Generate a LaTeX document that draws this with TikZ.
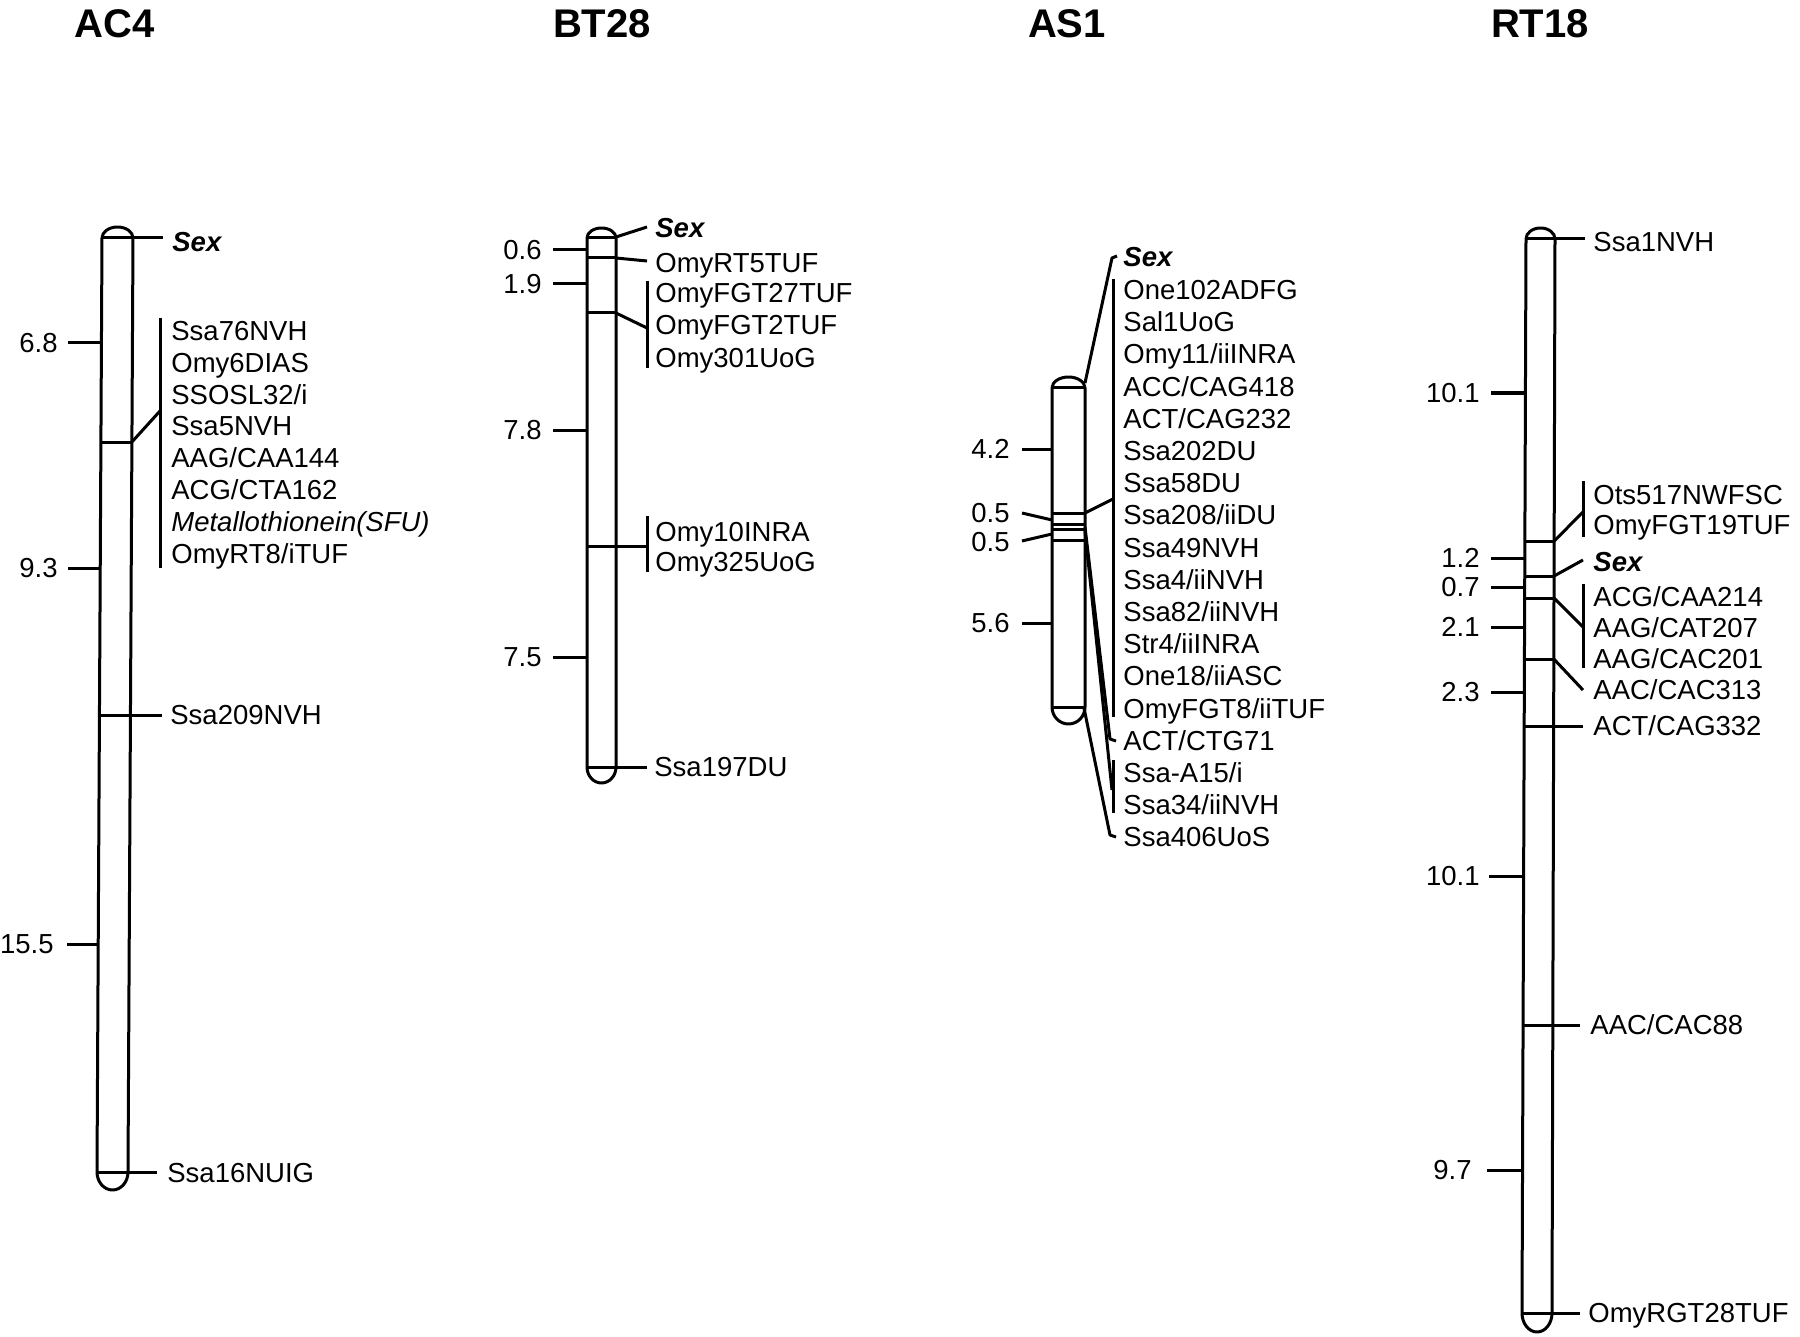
\documentclass[tikz,border=0pt]{standalone}
\usepackage{fontspec}
\setmainfont{Liberation Sans}
\newcommand\labfont{\fontsize{13.75pt}{16pt}\selectfont}
\newcommand\ttlfont{\fontsize{20pt}{24pt}\selectfont\bfseries}
\tikzset{
  chr/.style={line width=1.5pt, line join=round},
  ln/.style={line width=1.5pt},
  lbl/.style={inner sep=0pt, anchor=west, text height=9.85pt, text depth=0pt, font=\labfont},
  num/.style={lbl, anchor=east},
  sexl/.style={lbl, font=\labfont\bfseries\itshape},
  itl/.style={lbl, font=\labfont\itshape},
  ttl/.style={inner sep=0pt, text height=14.3pt, text depth=0pt, font=\ttlfont},
}
\begin{document}
\begin{tikzpicture}[x=0.5pt,y=-0.5pt]
\useasboundingbox (0,0) rectangle (1800,1337);

% ---------------- titles
\node[ttl] (tAC4) at (115,23) {AC4};
\node[ttl] (tBT28) at (602,23) {BT28};
\node[ttl] (tAS1) at (1067,23) {AS1};
\node[ttl] (tRT18) at (1540,23) {RT18};

% ================= AC4
\draw[chr] (102,238) -- (97,1172) arc[start angle=180,end angle=360,x radius=7.75pt,y radius=9pt] -- (133,238) arc[start angle=0,end angle=180,x radius=7.75pt,y radius=5.5pt] -- cycle;
\draw[ln] (102,238) -- (133,238);
\draw[ln] (100.9,442) -- (131.9,442);
\draw[ln] (99.4,715) -- (130.4,715);
\draw[ln] (97,1172) -- (128,1172);
% left numbers
\coordinate (a1l) at (68,343);  \coordinate (a1c) at (101.4,343);
\coordinate (a2l) at (68,568);  \coordinate (a2c) at (100.2,568);
\coordinate (a3l) at (67,944);  \coordinate (a3c) at (98.2,944);
\draw[ln] (a1l) -- (a1c);
\draw[ln] (a2l) -- (a2c);
\draw[ln] (a3l) -- (a3c);
\node[num] (an1) at (58,343) {6.8};
\node[num] (an2) at (58,568) {9.3};
\node[num] (an3) at (54,944) {15.5};
% right markers
\coordinate (as0) at (133,238); \coordinate (as1) at (163,238);
\draw[ln] (as0) -- (as1);
\node[sexl] (aSex) at (172,242) {Sex};
\coordinate (ab0) at (131.9,442); \coordinate (ab1) at (160,411);
\coordinate (abt) at (160,318); \coordinate (abb) at (160,568);
\draw[ln] (ab0) -- (ab1);
\draw[ln] (abt) -- (abb);
\node[lbl] (aL1) at (171,331) {Ssa76NVH};
\node[lbl] (aL2) at (171,363) {Omy6DIAS};
\node[lbl] (aL3) at (171,395) {SSOSL32/i};
\node[lbl] (aL4) at (171,426) {Ssa5NVH};
\node[lbl] (aL5) at (171,458) {AAG/CAA144};
\node[lbl] (aL6) at (171,490) {ACG/CTA162};
\node[itl] (aL7) at (171,522) {Metallothionein(SFU)};
\node[lbl] (aL8) at (171,554) {OmyRT8/iTUF};
\coordinate (ac0) at (130.4,715); \coordinate (ac1) at (162,715);
\draw[ln] (ac0) -- (ac1);
\node[lbl] (aL9) at (170,715) {Ssa209NVH};
\coordinate (ad0) at (128,1172); \coordinate (ad1) at (157,1172);
\draw[ln] (ad0) -- (ad1);
\node[lbl] (aL10) at (167,1173) {Ssa16NUIG};

% ================= BT28
\draw[chr] (587,238) -- (587,767) arc[start angle=180,end angle=360,x radius=7.25pt,y radius=8pt] -- (616,238) arc[start angle=0,end angle=180,x radius=7.25pt,y radius=5pt] -- cycle;
\draw[ln] (587,238) -- (616,238);
\draw[ln] (587,258) -- (616,258);
\draw[ln] (587,313) -- (616,313);
\draw[ln] (587,546) -- (616,546);
\draw[ln] (587,767) -- (616,767);
\coordinate (b1l) at (553,250); \coordinate (b1c) at (587,250);
\coordinate (b2l) at (553,284); \coordinate (b2c) at (587,284);
\coordinate (b3l) at (553,430); \coordinate (b3c) at (587,430);
\coordinate (b4l) at (553,657); \coordinate (b4c) at (587,657);
\draw[ln] (b1l) -- (b1c);
\draw[ln] (b2l) -- (b2c);
\draw[ln] (b3l) -- (b3c);
\draw[ln] (b4l) -- (b4c);
\node[num] (bn1) at (542,250) {0.6};
\node[num] (bn2) at (542,284) {1.9};
\node[num] (bn3) at (542,430) {7.8};
\node[num] (bn4) at (542,657) {7.5};
\coordinate (bs0) at (616,237); \coordinate (bs1) at (647,227);
\draw[ln] (bs0) -- (bs1);
\node[sexl] (bSex) at (655,228) {Sex};
\coordinate (br0) at (616,258); \coordinate (br1) at (647,261);
\draw[ln] (br0) -- (br1);
\node[lbl] (bL1) at (655,263) {OmyRT5TUF};
\coordinate (bf0) at (616,313); \coordinate (bf1) at (647,328);
\coordinate (bft) at (647,281); \coordinate (bfb) at (647,368);
\draw[ln] (bf0) -- (bf1);
\draw[ln] (bft) -- (bfb);
\node[lbl] (bL2) at (655,293) {OmyFGT27TUF};
\node[lbl] (bL3) at (655,325) {OmyFGT2TUF};
\node[lbl] (bL4) at (655,358) {Omy301UoG};
\coordinate (bo0) at (616,546); \coordinate (bo1) at (647,546);
\coordinate (bot) at (647,516); \coordinate (bob) at (647,572);
\draw[ln] (bo0) -- (bo1);
\draw[ln] (bot) -- (bob);
\node[lbl] (bL5) at (655,532) {Omy10INRA};
\node[lbl] (bL6) at (655,562) {Omy325UoG};
\coordinate (bz0) at (616,767); \coordinate (bz1) at (647,767);
\draw[ln] (bz0) -- (bz1);
\node[lbl] (bL7) at (654,767) {Ssa197DU};

% ================= AS1
\draw[chr] (1052,388) -- (1052,707) arc[start angle=180,end angle=360,x radius=8.25pt,y radius=8.5pt] -- (1085,388) arc[start angle=0,end angle=180,x radius=8.25pt,y radius=5.5pt] -- cycle;
\draw[ln] (1052,388) -- (1085,388);
\draw[ln] (1052,513) -- (1085,513);
\draw[ln] (1052,524) -- (1085,524);
\draw[ln] (1052,529) -- (1085,529);
\draw[ln] (1052,540) -- (1085,540);
\draw[ln] (1052,707) -- (1085,707);
\coordinate (c1l) at (1022,449); \coordinate (c1c) at (1052,449);
\coordinate (c2l) at (1022,513); \coordinate (c2c) at (1052,520);
\coordinate (c3l) at (1022,541); \coordinate (c3c) at (1052,534);
\coordinate (c4l) at (1022,623); \coordinate (c4c) at (1052,623);
\draw[ln] (c1l) -- (c1c);
\draw[ln] (c2l) -- (c2c);
\draw[ln] (c3l) -- (c3c);
\draw[ln] (c4l) -- (c4c);
\node[num] (cn1) at (1010,449) {4.2};
\node[num] (cn2) at (1010,513) {0.5};
\node[num] (cn3) at (1010,542) {0.5};
\node[num] (cn4) at (1010,623) {5.6};
\coordinate (cs0) at (1085,383); \coordinate (cs1) at (1112,258); \coordinate (cs2) at (1117,256);
\draw[ln, line join=round] (cs0) -- (cs1) -- (cs2);
\node[sexl] (cSex) at (1123,257) {Sex};
\coordinate (cm0) at (1085,513); \coordinate (cm1) at (1113,499);
\coordinate (cmt) at (1113,279); \coordinate (cmb) at (1113,717);
\draw[ln] (cm0) -- (cm1);
\draw[ln] (cmt) -- (cmb);
\node[lbl] (cL1) at (1123,290) {One102ADFG};
\node[lbl] (cL2) at (1123,322) {Sal1UoG};
\node[lbl] (cL3) at (1123,354) {Omy11/iiINRA};
\node[lbl] (cL4) at (1123,387) {ACC/CAG418};
\node[lbl] (cL5) at (1123,419) {ACT/CAG232};
\node[lbl] (cL6) at (1123,451) {Ssa202DU};
\node[lbl] (cL7) at (1123,483) {Ssa58DU};
\node[lbl] (cL8) at (1123,515) {Ssa208/iiDU};
\node[lbl] (cL9) at (1123,548) {Ssa49NVH};
\node[lbl] (cL10) at (1123,580) {Ssa4/iiNVH};
\node[lbl] (cL11) at (1123,612) {Ssa82/iiNVH};
\node[lbl] (cL12) at (1123,644) {Str4/iiINRA};
\node[lbl] (cL13) at (1123,676) {One18/iiASC};
\node[lbl] (cL14) at (1123,709) {OmyFGT8/iiTUF};
\coordinate (ck0) at (1085,527); \coordinate (ck1) at (1110,739); \coordinate (ck2) at (1116,741);
\draw[ln, line join=round] (ck0) -- (ck1) -- (ck2);
\node[lbl] (cL15) at (1123,741) {ACT/CTG71};
\coordinate (ca0) at (1085,531); \coordinate (ca1) at (1112,790);
\coordinate (cat) at (1113,760); \coordinate (cab) at (1113,813);
\draw[ln] (ca0) -- (ca1);
\draw[ln] (cat) -- (cab);
\node[lbl] (cL16) at (1123,773) {Ssa-A15/i};
\node[lbl] (cL17) at (1123,805) {Ssa34/iiNVH};
\coordinate (cz0) at (1084,708); \coordinate (cz1) at (1110,835); \coordinate (cz2) at (1116,837);
\draw[ln, line join=round] (cz0) -- (cz1) -- (cz2);
\node[lbl] (cL18) at (1123,837) {Ssa406UoS};

% ================= RT18
\draw[chr] (1526,239) -- (1522,1313) arc[start angle=180,end angle=360,x radius=7.5pt,y radius=9.5pt] -- (1555,239) arc[start angle=0,end angle=180,x radius=7.25pt,y radius=5.5pt] -- cycle;
\draw[ln] (1526,239) -- (1555,239);
\draw[ln] (1524.9,541) -- (1554.2,541);
\draw[ln] (1524.7,576) -- (1554.1,576);
\draw[ln] (1524.7,598) -- (1554.0,598);
\draw[ln] (1524.4,659) -- (1553.8,659);
\draw[ln] (1524.2,726) -- (1553.6,726);
\draw[ln] (1523.1,1025) -- (1552.8,1025);
\draw[ln] (1522,1313) -- (1552,1313);
\coordinate (d1l) at (1491,393);  \coordinate (d1c) at (1525.4,393);
\coordinate (d2l) at (1491,558);  \coordinate (d2c) at (1524.8,558);
\coordinate (d3l) at (1491,587);  \coordinate (d3c) at (1524.7,587);
\coordinate (d4l) at (1491,627);  \coordinate (d4c) at (1524.6,627);
\coordinate (d5l) at (1491,692);  \coordinate (d5c) at (1524.3,692);
\coordinate (d6l) at (1489,876);  \coordinate (d6c) at (1523.6,876);
\coordinate (d7l) at (1487,1170); \coordinate (d7c) at (1522.5,1170);
\draw[ln] (d1l) -- (d1c);
\draw[ln] (d2l) -- (d2c);
\draw[ln] (d3l) -- (d3c);
\draw[ln] (d4l) -- (d4c);
\draw[ln] (d5l) -- (d5c);
\draw[ln] (d6l) -- (d6c);
\draw[ln] (d7l) -- (d7c);
\node[num] (dn1) at (1480,393) {10.1};
\node[num] (dn2) at (1480,558) {1.2};
\node[num] (dn3) at (1480,587) {0.7};
\node[num] (dn4) at (1480,627) {2.1};
\node[num] (dn5) at (1480,692) {2.3};
\node[num] (dn6) at (1480,876) {10.1};
\node[num] (dn7) at (1472,1170) {9.7};
\coordinate (ds0) at (1555,239); \coordinate (ds1) at (1585,239);
\draw[ln] (ds0) -- (ds1);
\node[lbl] (dL1) at (1593,242) {Ssa1NVH};
\coordinate (do0) at (1554.2,541); \coordinate (do1) at (1583,512);
\coordinate (dot) at (1583,481); \coordinate (dob) at (1583,537);
\draw[ln] (do0) -- (do1);
\draw[ln] (dot) -- (dob);
\node[lbl] (dL2) at (1593,495) {Ots517NWFSC};
\node[lbl] (dL3) at (1593,525) {OmyFGT19TUF};
\coordinate (dx0) at (1554.1,576); \coordinate (dx1) at (1583,560);
\draw[ln] (dx0) -- (dx1);
\node[sexl] (dSex) at (1593,562) {Sex};
\coordinate (dg0) at (1554.0,598); \coordinate (dg1) at (1583,627);
\coordinate (dgt) at (1583,584); \coordinate (dgb) at (1583,668);
\draw[ln] (dg0) -- (dg1);
\draw[ln] (dgt) -- (dgb);
\node[lbl] (dL4) at (1593,597) {ACG/CAA214};
\node[lbl] (dL5) at (1593,628) {AAG/CAT207};
\node[lbl] (dL6) at (1593,659) {AAG/CAC201};
\coordinate (dh0) at (1553.8,659); \coordinate (dh1) at (1583,690);
\draw[ln] (dh0) -- (dh1);
\node[lbl] (dL7) at (1593,690) {AAC/CAC313};
\coordinate (di0) at (1553.6,726); \coordinate (di1) at (1583,726);
\draw[ln] (di0) -- (di1);
\node[lbl] (dL8) at (1593,726) {ACT/CAG332};
\coordinate (dj0) at (1552.8,1025); \coordinate (dj1) at (1580,1025);
\draw[ln] (dj0) -- (dj1);
\node[lbl] (dL9) at (1590,1025) {AAC/CAC88};
\coordinate (dk0) at (1552,1313); \coordinate (dk1) at (1580,1313);
\draw[ln] (dk0) -- (dk1);
\node[lbl] (dL10) at (1588,1313) {OmyRGT28TUF};
\end{tikzpicture}
\end{document}
